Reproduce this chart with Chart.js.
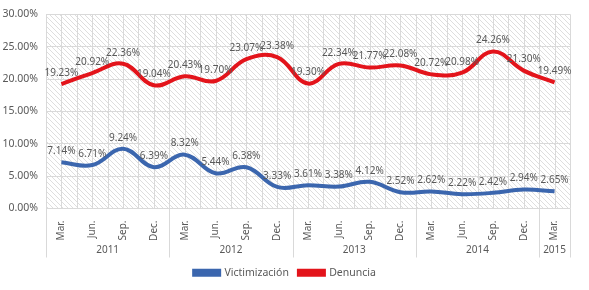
<!DOCTYPE html>
<html>
<head>
<meta charset="utf-8">
<script src="https://cdn.jsdelivr.net/npm/chart.js@4.4.1/dist/chart.umd.min.js"></script>
<style>
  html, body { margin: 0; padding: 0; background: #fff; }
  #wrap { width: 589px; height: 290px; }
</style>
</head>
<body>
<div id="wrap"><canvas id="chart"></canvas></div>
<script>
// quarterly data, 2011 Mar -> 2015 Mar
const months = ['Mar.', 'Jun.', 'Sep.', 'Dec.', 'Mar.', 'Jun.', 'Sep.', 'Dec.', 'Mar.', 'Jun.', 'Sep.', 'Dec.',
                'Mar.', 'Jun.', 'Sep.', 'Dec.', 'Mar.'];
const yearLabels = ['2011', '2012', '2013', '2014', '2015'];
const yearSpans = [4, 4, 4, 4, 1];
const victimizacion = [7.14, 6.71, 9.24, 6.39, 8.32, 5.44, 6.38, 3.33, 3.61, 3.38, 4.12, 2.52, 2.62, 2.22, 2.42, 2.94, 2.65];
const denuncia = [19.23, 20.92, 22.36, 19.04, 20.43, 19.70, 23.07, 23.38, 19.30, 22.34, 21.77, 22.08, 20.72, 20.98, 24.26, 21.30, 19.49];

const FONT = 'Noto Sans';
const TEXT = '#595959';
const GRID = '#d9d9d9';

function makeHatch(ctx) {
    const p = document.createElement('canvas');
    p.width = 5; p.height = 5;
    const c = p.getContext('2d');
    c.fillStyle = '#fff';
    c.fillRect(0, 0, 5, 5);
    c.strokeStyle = '#dedede';
    c.lineWidth = 1;
    c.beginPath();
    c.moveTo(0, 0); c.lineTo(5, 5);
    c.moveTo(-1, 4); c.lineTo(1, 6);
    c.moveTo(4, -1); c.lineTo(6, 1);
    c.stroke();
    return ctx.createPattern(p, 'repeat');
}

// hatched background + vertical grid at centers and category edges
const backgroundPlugin = {
    id: 'hatchBg',
    beforeDraw(chart) {
        const {ctx, chartArea: a} = chart;
        ctx.save();
        ctx.fillStyle = makeHatch(ctx);
        ctx.fillRect(a.left, a.top, a.right - a.left, a.bottom - a.top);
        ctx.restore();
    },
    beforeDatasetsDraw(chart) {
        const {ctx, chartArea: a, scales: {x}} = chart;
        const half = (x.getPixelForValue(1) - x.getPixelForValue(0)) / 2;
        ctx.save();
        ctx.strokeStyle = GRID;
        ctx.lineWidth = 1;
        ctx.beginPath();
        for (let i = 0; i < months.length; i++) {
            const px = Math.round(x.getPixelForValue(i)) + 0.5;
            ctx.moveTo(px, a.top); ctx.lineTo(px, a.bottom);
            const e = Math.round(x.getPixelForValue(i) - half) + 0.5;
            ctx.moveTo(e, a.top); ctx.lineTo(e, a.bottom);
        }
        const last = Math.round(x.getPixelForValue(months.length - 1) + half) + 0.5;
        ctx.moveTo(last, a.top); ctx.lineTo(last, a.bottom);
        ctx.stroke();
        ctx.restore();
    }
};

// value labels above points
const labelPlugin = {
    id: 'valueLabels',
    afterDatasetsDraw(chart) {
        const {ctx} = chart;
        ctx.save();
        ctx.font = `10px "${FONT}"`;
        ctx.fillStyle = TEXT;
        ctx.textAlign = 'center';
        ctx.textBaseline = 'bottom';
        chart.data.datasets.forEach((ds, di) => {
            chart.getDatasetMeta(di).data.forEach((pt, i) => {
                ctx.fillText(ds.data[i].toFixed(2) + '%', pt.x, pt.y - 6);
            });
        });
        ctx.restore();
    }
};

// year row under the month ticks
const yearPlugin = {
    id: 'yearAxis',
    afterDraw(chart) {
        const {ctx, chartArea: a, scales: {x}} = chart;
        const half = (x.getPixelForValue(1) - x.getPixelForValue(0)) / 2;
        const depth = 49;
        ctx.save();
        ctx.strokeStyle = GRID;
        ctx.lineWidth = 1;
        ctx.font = `10px "${FONT}"`;
        ctx.fillStyle = TEXT;
        ctx.textAlign = 'center';
        ctx.textBaseline = 'middle';
        let start = 0;
        yearLabels.forEach((yl, k) => {
            const end = start + yearSpans[k] - 1;
            const l = x.getPixelForValue(start) - half;
            const r = x.getPixelForValue(end) + half;
            ctx.beginPath();
            const lx = Math.round(l) + 0.5;
            ctx.moveTo(lx, a.bottom); ctx.lineTo(lx, a.bottom + depth);
            if (k === yearLabels.length - 1) {
                const rx = Math.round(r) + 0.5;
                ctx.moveTo(rx, a.bottom); ctx.lineTo(rx, a.bottom + depth);
            }
            ctx.stroke();
            ctx.fillText(yl, (l + r) / 2, a.bottom + 42);
            start = end + 1;
        });
        ctx.restore();
    }
};

const ctx = document.getElementById('chart').getContext('2d');
new Chart(ctx, {
    type: 'line',
    data: {
        labels: months,
        datasets: [{
            label: 'Victimización',
            data: victimizacion,
            borderColor: '#3b66ae',
            backgroundColor: '#3b66ae',
            borderWidth: 4,
            pointRadius: 0,
            tension: 0.4
        }, {
            label: 'Denuncia',
            data: denuncia,
            borderColor: '#e3141b',
            backgroundColor: '#e3141b',
            borderWidth: 4,
            pointRadius: 0,
            tension: 0.4
        }]
    },
    options: {
        responsive: true,
        maintainAspectRatio: false,
        animation: false,
        layout: { padding: { top: 3, right: 19, bottom: 2, left: 0 } },
        scales: {
            x: {
                offset: true,
                grid: { display: false },
                border: { display: false },
                ticks: {
                    color: TEXT,
                    font: { family: FONT, size: 10 },
                    minRotation: 90,
                    maxRotation: 90,
                    padding: 4,
                    autoSkip: false
                },
                afterFit(scale) { scale.height = 49; }
            },
            y: {
                min: 0,
                max: 30,
                ticks: {
                    stepSize: 5,
                    color: TEXT,
                    font: { family: FONT, size: 10.5 },
                    padding: 8,
                    callback: v => v.toFixed(2) + '%'
                },
                grid: { color: GRID, lineWidth: 1, drawTicks: false },
                border: { display: false },
                afterFit(scale) { scale.width = 46; }
            }
        },
        plugins: {
            legend: {
                position: 'bottom',
                labels: {
                    color: TEXT,
                    font: { family: FONT, size: 10.5 },
                    boxWidth: 25,
                    boxHeight: 4,
                    padding: 10
                }
            },
            tooltip: { enabled: false }
        }
    },
    plugins: [backgroundPlugin, labelPlugin, yearPlugin]
});
</script>
</body>
</html>
